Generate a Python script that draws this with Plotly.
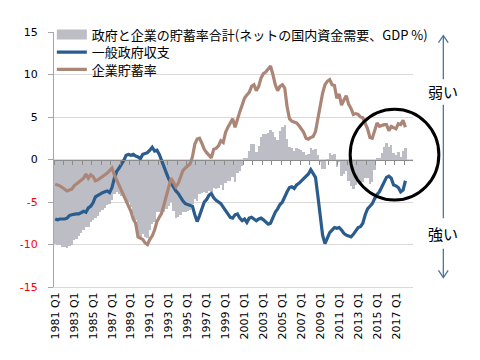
import plotly.graph_objects as go

# ---- data ----
quarters = [f"{y} Q{q}" for y in range(1981, 2019) for q in range(1, 5)][:149]

tick_labels = ["1981 Q1", "1983 Q1", "1985 Q1", "1987 Q1", "1989 Q1", "1991 Q1",
               "1993 Q1", "1995 Q1", "1997 Q1", "1999 Q1", "2001 Q1", "2003 Q1",
               "2005 Q1", "2007 Q1", "2009 Q1", "2011 Q1", "2013 Q1", "2015 Q1",
               "2017 Q1"]

gov_balance = [
    -7.0, -7.1, -7.0, -7.0, -7.0, -6.9, -6.6, -6.5, -6.4, -6.4,
    -6.4, -6.3, -6.1, -6.2, -5.7, -5.5, -5.1, -4.4, -4.2, -4.0,
    -3.9, -3.8, -3.7, -3.9, -3.3, -2.2, -1.4, -1.0, -0.6, -0.1,
    0.5, 0.6, 0.5, 0.6, 0.4, 0.3, 0.1, 0.6, 0.7, 0.8,
    1.1, 1.45, 1.0, 1.1, 0.6, -0.2, -0.9, -1.6, -2.3, -2.8,
    -3.3, -3.7, -4.0, -4.5, -4.9, -5.2, -5.3, -5.4, -5.5, -6.5,
    -7.3, -6.6, -5.8, -5.0, -4.7, -4.2, -4.0, -4.5, -4.8, -5.0,
    -5.2, -5.6, -6.0, -6.3, -6.8, -6.9, -6.5, -6.4, -6.9, -7.2,
    -7.0, -7.4, -6.9, -6.8, -7.0, -7.2, -7.0, -6.9, -7.1, -7.3,
    -7.6, -7.5, -6.8, -6.2, -5.8, -5.3, -5.0, -4.3, -3.8, -3.3,
    -3.2, -3.4, -3.0, -2.8, -2.5, -2.3, -2.0, -1.7, -1.2, -1.6,
    -2.1, -4.3, -6.8, -8.9, -9.9, -9.3, -8.6, -8.3, -8.0, -8.1,
    -8.0, -8.3, -8.7, -8.9, -9.0, -9.1, -8.8, -8.4, -8.0, -7.9,
    -7.5, -6.5, -5.8, -5.5, -5.2, -4.6, -4.1, -3.8, -3.2, -2.6,
    -2.1, -1.95, -2.2, -3.0, -3.1, -3.3, -3.8, -3.6, -2.5,
]

corp_saving = [
    -2.9, -3.0, -3.1, -3.3, -3.5, -3.7, -3.6, -3.5, -3.1, -2.9,
    -2.6, -2.4, -2.2, -1.7, -2.2, -1.8, -2.0, -2.5, -2.4, -2.2,
    -2.0, -1.9, -1.6, -1.3, -1.0, -1.8, -2.4, -3.0, -3.7, -4.4,
    -5.0, -5.6, -6.1, -7.0, -7.5, -9.1, -9.3, -9.4, -9.8, -10.0,
    -9.4, -9.0, -8.3, -7.3, -6.8, -6.3, -5.3, -4.2, -3.2, -2.2,
    -2.7, -3.2, -2.8, -2.0, -1.3, -1.0, -0.8, -0.5, 0.3, 1.8,
    2.4, 2.5, 1.9, 1.2, 0.8, 0.5, 0.2, 1.2, 1.3, 1.6,
    2.2, 2.0, 3.2, 3.8, 4.3, 4.8, 3.8, 4.8, 5.6, 6.4,
    7.2, 7.6, 7.9, 8.6, 8.8, 8.1, 8.6, 9.6, 10.1, 10.3,
    10.7, 11.0, 10.0, 8.8, 8.1, 8.6, 8.8, 8.4, 6.2, 4.8,
    4.5, 4.4, 4.3, 4.0, 3.6, 3.2, 2.5, 2.4, 2.6, 2.7,
    3.3, 4.8, 6.5, 7.8, 8.8, 9.2, 9.4, 8.8, 8.7, 7.2,
    7.7, 6.4, 7.0, 7.5, 6.5, 6.0, 5.3, 5.4, 5.3, 5.0,
    4.9, 4.3, 3.6, 2.6, 2.5, 3.4, 4.3, 3.9, 4.0, 4.1,
    4.1, 3.4, 3.9, 3.8, 3.6, 4.2, 4.1, 4.6, 3.8,
]

total_balance = [
    -9.9, -10.1, -10.1, -10.3, -10.3, -10.4, -10.2, -10.0, -9.5, -9.3,
    -9.0, -8.7, -8.3, -7.9, -7.9, -7.3, -7.1, -6.9, -6.6, -6.2,
    -5.9, -5.7, -5.3, -5.2, -4.8, -4.0, -3.8, -4.0, -4.3, -4.5,
    -4.6, -5.0, -5.6, -6.4, -7.1, -8.8, -9.2, -8.8, -9.1, -9.2,
    -8.3, -7.6, -7.3, -6.2, -6.2, -6.5, -6.2, -5.8, -5.5, -5.0,
    -6.0, -6.9, -6.8, -6.5, -6.2, -6.2, -6.1, -5.9, -5.2, -4.7,
    -4.9, -4.1, -3.9, -3.8, -3.9, -3.7, -3.8, -3.3, -3.5, -3.4,
    -3.0, -3.6, -2.8, -2.5, -2.5, -2.1, -2.7, -1.6, -1.3, -0.8,
    0.2, 0.2, 1.0, 1.8, 1.8, 0.9, 1.6, 2.7, 3.0, 3.0,
    3.1, 3.5, 3.2, 2.6, 2.3, 3.3, 3.8, 4.1, 2.4, 1.5,
    1.3, 1.0, 1.3, 1.2, 1.1, 0.9, 0.5, 0.7, 1.4, 1.1,
    1.2, 0.5, -0.3, -1.1, -1.1, -0.1, 0.8, 0.5, 0.7, -0.9,
    -0.3, -1.9, -1.7, -1.4, -2.5, -3.1, -3.5, -3.0, -2.7, -2.9,
    -2.6, -2.2, -2.2, -2.9, -2.7, -1.2, 0.2, 0.1, 0.8, 1.5,
    2.0, 1.45, 1.7, 0.8, 0.5, 0.9, 0.3, 1.0, 1.3,
]

y_ticks = [-15, -10, -5, 0, 5, 10, 15]
y_tick_text = ["<span style='color:#ff0000'>-15</span>",
               "<span style='color:#ff0000'>-10</span>",
               "<span style='color:#ff0000'>-5</span>",
               "0", "5", "10", "15"]

name_total = "政府と企業の貯蓄率合計(ネットの国内資金需要、GDP %)"
name_gov = "一般政府収支"
name_corp = "企業貯蓄率"

# ---- styling ----
NUM_FONT = "DejaVu Sans, Verdana, sans-serif"
JP_FONT = "Noto Sans CJK JP, Noto Sans CJK SC, sans-serif"
BAR_COLOR = "#bdbec5"
GOV_COLOR = "#2b5c8e"
CORP_COLOR = "#ab8677"
ARROW_COLOR = "#4f74a0"

fig = go.Figure()
fig.add_trace(go.Bar(
    x=quarters, y=total_balance, name=name_total, showlegend=False,
    marker=dict(color=BAR_COLOR, line=dict(width=0)),
))
# legend entry for the bars drawn as a wide grey swatch
fig.add_trace(go.Scatter(
    x=[None], y=[None], name=name_total, mode="lines",
    line=dict(color=BAR_COLOR, width=10), legend="legend",
))
fig.add_trace(go.Scatter(
    x=quarters, y=gov_balance, name=name_gov, mode="lines",
    line=dict(color=GOV_COLOR, width=3.2), legend="legend2",
))
fig.add_trace(go.Scatter(
    x=quarters, y=corp_saving, name=name_corp, mode="lines",
    line=dict(color=CORP_COLOR, width=3.2), legend="legend3",
))
# invisible trace carrying the zero-line axis with its ticks
fig.add_trace(go.Scatter(
    x=quarters[:1], y=[0], xaxis="x2", mode="markers",
    marker=dict(opacity=0), showlegend=False, hoverinfo="skip",
))

tick_positions = [quarters[i] for i in range(0, 149, 8)]
zero_ticks = [-0.5 + 4 * k for k in range(0, 39)]

leg_common = dict(x=-0.006, xanchor="left", yanchor="middle",
                  bgcolor="rgba(0,0,0,0)",
                  font=dict(family=JP_FONT, size=13, color="#000000"),
                  itemwidth=30)

# page body has an 8px margin, so the figure is sized to fit the 480x360 view
fig.update_layout(
    width=472, height=352,
    margin=dict(l=44, r=67, t=15, b=73),
    paper_bgcolor="white", plot_bgcolor="white",
    bargap=0,
    showlegend=True,
    legend=dict(y=0.990, **leg_common),
    legend2=dict(y=0.921, **leg_common),
    legend3=dict(y=0.853, **leg_common),
    xaxis=dict(
        type="category",
        range=[-0.5, 151.2],
        tickmode="array", tickvals=tick_positions, ticktext=tick_labels,
        tickangle=-90,
        tickfont=dict(family=NUM_FONT, size=11, color="#000000"),
        showgrid=False, zeroline=False,
        showline=True, linecolor="#d9d9d9", linewidth=1,
        ticks="",
    ),
    xaxis2=dict(
        overlaying="x", matches="x", anchor="free", position=0.5,
        type="category",
        tickmode="array", tickvals=zero_ticks,
        showticklabels=False,
        ticks="outside", ticklen=4, tickcolor="#8c8c8c", tickwidth=1,
        showline=True, linecolor="#8c8c8c", linewidth=1.3,
        showgrid=False, zeroline=False,
    ),
    yaxis=dict(
        range=[-15, 15],
        tickmode="array", tickvals=y_ticks, ticktext=y_tick_text,
        tickfont=dict(family=NUM_FONT, size=11, color="#000000"),
        showgrid=True, gridcolor="#d9d9d9", gridwidth=1,
        zeroline=False,
        showline=True, linecolor="#a6a6a6", linewidth=1,
        ticks="outside", ticklen=5, tickcolor="#a6a6a6",
        ticklabelstandoff=8,
    ),
    shapes=[
        dict(type="circle", xref="paper", yref="paper",
             x0=0.825, x1=1.072, y0=0.341, y1=0.697,
             line=dict(color="#000000", width=3)),
        dict(type="line", xref="paper", yref="paper",
             x0=1.0845, x1=1.0845, y0=0.986, y1=0.815,
             line=dict(color=ARROW_COLOR, width=1.3)),
        dict(type="line", xref="paper", yref="paper",
             x0=1.0845, x1=1.0845, y0=0.715, y1=0.27,
             line=dict(color=ARROW_COLOR, width=1.3)),
        dict(type="line", xref="paper", yref="paper",
             x0=1.0845, x1=1.0845, y0=0.15, y1=0.037,
             line=dict(color=ARROW_COLOR, width=1.3)),
        dict(type="path", xref="paper", yref="paper",
             path="M 1.071,0.958 L 1.0845,0.986 L 1.098,0.958",
             line=dict(color=ARROW_COLOR, width=1.3)),
        dict(type="path", xref="paper", yref="paper",
             path="M 1.071,0.065 L 1.0845,0.037 L 1.098,0.065",
             line=dict(color=ARROW_COLOR, width=1.3)),
    ],
    annotations=[
        dict(text="弱い", xref="paper", yref="paper", x=1.0845, y=0.766,
             showarrow=False, font=dict(family=JP_FONT, size=15, color="#000000"),
             xanchor="center", yanchor="middle"),
        dict(text="強い", xref="paper", yref="paper", x=1.0845, y=0.21,
             showarrow=False, font=dict(family=JP_FONT, size=15, color="#000000"),
             xanchor="center", yanchor="middle"),
    ],
)

fig.write_html("out.html")
